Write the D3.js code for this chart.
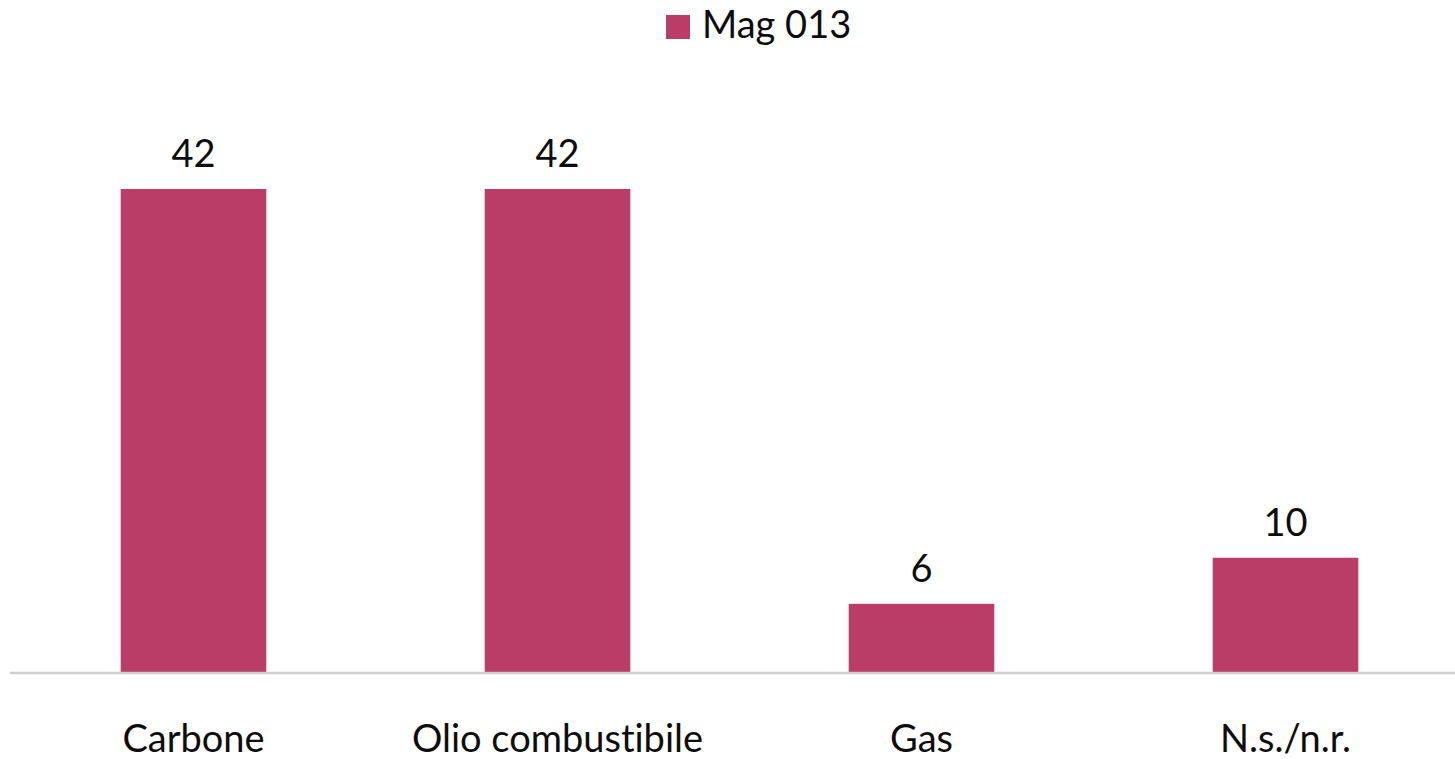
<!DOCTYPE html>
<html>
<head>
<meta charset="utf-8">
<script src="https://cdn.jsdelivr.net/npm/d3@7"></script>
<style>
  html, body { margin: 0; padding: 0; background: #ffffff; }
  svg { display: block; }
  text { font-family: Lato, "Open Sans", "Liberation Sans", sans-serif; fill: #0d0d0d; font-variant-ligatures: none; }
</style>
</head>
<body>
<svg id="chart" width="1455" height="759"></svg>
<script>
const categories = ["Carbone", "Olio combustibile", "Gas", "N.s./n.r."];
const values = [42, 42, 6, 10];
const seriesName = "Mag 013";

const W = 1455, H = 759;
const barColor = "#B93D66";
const fontSize = 38;

const svg = d3.select("#chart");

const x = d3.scaleBand()
  .domain(categories)
  .range([11.5, 1467.5])
  .paddingInner(0.6)
  .paddingOuter(0.3);

const y = d3.scaleLinear()
  .domain([0, 42])
  .range([673, 189]);

// bars
svg.append("g").selectAll("rect")
  .data(categories)
  .join("rect")
  .attr("x", d => x(d))
  .attr("width", x.bandwidth())
  .attr("y", (d, i) => y(values[i]))
  .attr("height", (d, i) => y(0) - y(values[i]))
  .attr("fill", barColor);

// baseline axis
svg.append("line")
  .attr("x1", 10).attr("x2", W)
  .attr("y1", y(0)).attr("y2", y(0))
  .attr("stroke", "#cfcfcf")
  .attr("stroke-width", 2.5);

// value labels
svg.append("g").selectAll("text")
  .data(categories)
  .join("text")
  .attr("x", d => x(d) + x.bandwidth() / 2)
  .attr("y", (d, i) => y(values[i]) - 22)
  .attr("text-anchor", "middle")
  .style("font-size", fontSize + "px")
  .text((d, i) => values[i]);

// category labels
svg.append("g").selectAll("text")
  .data(categories)
  .join("text")
  .attr("x", d => x(d) + x.bandwidth() / 2)
  .attr("y", 752)
  .attr("text-anchor", "middle")
  .style("font-size", fontSize + "px")
  .text(d => d);

// legend
const lg = svg.append("g");
lg.append("rect")
  .attr("x", 666).attr("y", 15)
  .attr("width", 24).attr("height", 24)
  .attr("fill", barColor);
lg.append("text")
  .attr("x", 702).attr("y", 38)
  .style("font-size", fontSize + "px")
  .text(seriesName);
</script>
</body>
</html>
